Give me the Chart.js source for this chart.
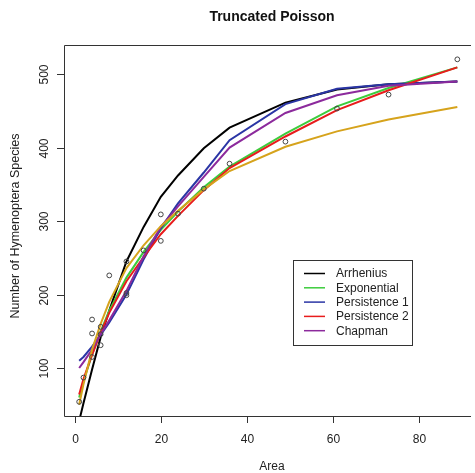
<!DOCTYPE html>
<html>
<head>
<meta charset="utf-8">
<script src="https://cdn.jsdelivr.net/npm/chart.js@4.4.0/dist/chart.umd.min.js"></script>
<style>
  html, body { margin: 0; padding: 0; background: #fff; }
</style>
</head>
<body>
<canvas id="chart" width="475" height="473"></canvas>
<script>
// observed data (open circles)
const areaObs    = [1, 2, 4, 4, 4, 6, 6, 6, 8, 12, 12, 12, 16, 20, 20, 24, 30, 36, 49, 61, 73, 89];
const speciesObs = [54, 87, 166, 147, 115, 156, 146, 131, 226, 245, 202, 199, 260, 309, 273, 310, 344, 378, 408, 453, 472, 520];

// fitted curves, evaluated at the sorted areas
const curveArea   = [1, 2, 4, 6, 8, 12, 16, 20, 24, 30, 36, 49, 61, 73, 89];
const arrhenius   = [28, 52, 98, 142, 178, 245, 292, 333, 362, 399, 427, 461, 479, 486, 490];
const exponential = [60, 82, 118, 150, 178, 223, 258, 288, 313, 346, 374, 419, 456, 481, 509];
const persist1    = [110, 115, 129, 145, 162, 200, 248, 290, 324, 366, 410, 459, 480, 486, 490];
const persist2    = [64, 85, 118, 148, 175, 218, 251, 282, 307, 342, 372, 415, 451, 478, 509];
const chapman     = [100, 108, 125, 146, 165, 205, 252, 292, 320, 360, 400, 447, 471, 484, 490];
const truncated   = [50, 78, 125, 160, 190, 236, 267, 293, 314, 343, 368, 401, 422, 438, 455];

const xTicks = [0, 20, 40, 60, 80];
const yTicks = [100, 200, 300, 400, 500];

const legendNames  = ['Arrhenius', 'Exponential', 'Persistence 1', 'Persistence 2', 'Chapman'];
const legendColors = ['#000000', '#3ccc3c', '#2a35a5', '#e81c1c', '#8c2a9c'];

function pts(ys) {
    return curveArea.map((x, i) => ({ x: x, y: ys[i] }));
}

function curve(label, ys, color) {
    return {
        label: label,
        data: pts(ys),
        showLine: true,
        borderColor: color,
        borderWidth: 2,
        pointRadius: 0,
        fill: false,
        tension: 0,
        clip: 0
    };
}

// draws the R style box, ticks, titles and legend
const rFrame = {
    id: 'rFrame',
    afterDraw(chart) {
        const ctx = chart.ctx;
        const a = chart.chartArea;
        const xs = chart.scales.x;
        const ys = chart.scales.y;
        ctx.save();
        ctx.strokeStyle = '#333';
        ctx.lineWidth = 1;
        ctx.beginPath();
        ctx.moveTo(a.right + 1, a.top + 0.5);
        ctx.lineTo(a.left + 0.5, a.top + 0.5);
        ctx.lineTo(a.left + 0.5, a.bottom + 0.5);
        ctx.lineTo(a.right + 1, a.bottom + 0.5);
        ctx.stroke();

        ctx.fillStyle = '#222';
        ctx.font = '12px "Liberation Sans", Arial, sans-serif';
        // x ticks
        ctx.textAlign = 'center';
        ctx.textBaseline = 'middle';
        xTicks.forEach(t => {
            const px = Math.round(xs.getPixelForValue(t)) + 0.5;
            ctx.beginPath();
            ctx.moveTo(px, a.bottom);
            ctx.lineTo(px, a.bottom + 7);
            ctx.stroke();
            ctx.fillText(String(t), px, 440);
        });
        // y ticks, labels rotated like R
        yTicks.forEach(t => {
            const py = Math.round(ys.getPixelForValue(t)) + 0.5;
            ctx.beginPath();
            ctx.moveTo(a.left, py);
            ctx.lineTo(a.left - 7, py);
            ctx.stroke();
            ctx.save();
            ctx.translate(45, py);
            ctx.rotate(-Math.PI / 2);
            ctx.fillText(String(t), 0, 0);
            ctx.restore();
        });
        // axis titles
        ctx.fillText('Area', 272, 467);
        ctx.save();
        ctx.font = '12.5px "Liberation Sans", Arial, sans-serif';
        ctx.translate(16, 226);
        ctx.rotate(-Math.PI / 2);
        ctx.fillText('Number of Hymenoptera Species', 0, 0);
        ctx.restore();
        // main title
        ctx.fillStyle = '#111';
        ctx.font = 'bold 14px "Liberation Sans", Arial, sans-serif';
        ctx.fillText('Truncated Poisson', 272, 17);

        // legend
        ctx.strokeStyle = '#333';
        ctx.strokeRect(293.5, 260.5, 119, 85);
        ctx.font = '12px "Liberation Sans", Arial, sans-serif';
        ctx.textAlign = 'left';
        legendNames.forEach((name, i) => {
            const y = 273.5 + i * 14.3;
            ctx.strokeStyle = legendColors[i];
            ctx.lineWidth = 1.5;
            ctx.beginPath();
            ctx.moveTo(304, y);
            ctx.lineTo(325, y);
            ctx.stroke();
            ctx.fillStyle = '#222';
            ctx.fillText(name, 336, y + 0.5);
        });
        ctx.restore();
    }
};

new Chart(document.getElementById('chart'), {
    type: 'scatter',
    data: {
        datasets: [
            {
                label: 'Observed',
                data: areaObs.map((x, i) => ({ x: x, y: speciesObs[i] })),
                pointStyle: 'circle',
                pointRadius: 2.4,
                borderColor: '#444',
                borderWidth: 1,
                backgroundColor: 'rgba(0,0,0,0)',
                clip: 6
            },
            curve('Truncated', truncated, '#d6a31c'),
            curve('Chapman', chapman, legendColors[4]),
            curve('Persistence 2', persist2, legendColors[3]),
            curve('Persistence 1', persist1, legendColors[2]),
            curve('Exponential', exponential, legendColors[1]),
            curve('Arrhenius', arrhenius, legendColors[0])
        ]
    },
    options: {
        responsive: false,
        animation: false,
        layout: { padding: { left: 64, top: 45, right: 0, bottom: 57 } },
        scales: {
            x: { type: 'linear', min: -2.53, max: 91.95, display: false },
            y: { type: 'linear', min: 34.7, max: 539.5, display: false }
        },
        plugins: {
            legend: { display: false },
            tooltip: { enabled: false }
        }
    },
    plugins: [rFrame]
});
</script>
</body>
</html>
